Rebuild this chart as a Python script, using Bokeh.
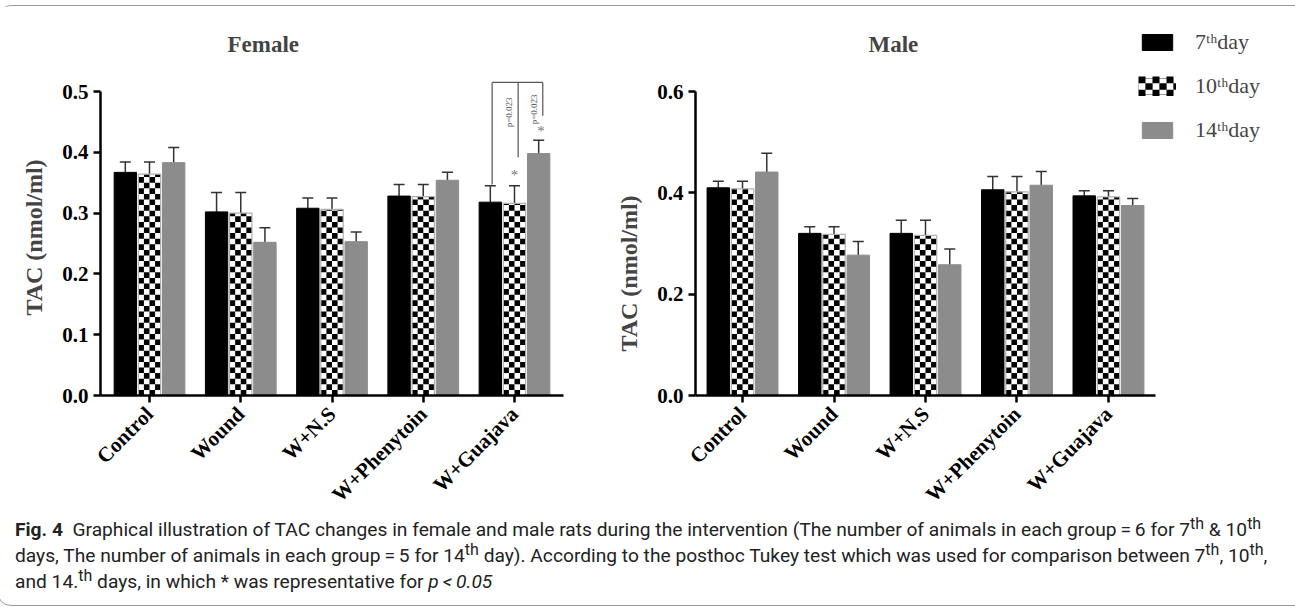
import math
from bokeh.plotting import figure
from bokeh.models import (ColumnDataSource, FactorRange, Range1d, Whisker, TeeHead, Legend, LegendItem,
                          Div, FixedTicker, NumeralTickFormatter)
from bokeh.layouts import row, column
from bokeh.transform import dodge
from bokeh.core.properties import value
from bokeh.embed import file_html
from bokeh.resources import INLINE

# ---------------- data ----------------
groups = ["Control", "Wound", "W+N.S", "W+Phenytoin", "W+Guajava"]
series_names = ["7ᵗʰday", "10ᵗʰday", "14ᵗʰday"]

female_d7 = [0.367, 0.302, 0.308, 0.328, 0.318]
female_d7_err = [0.017, 0.032, 0.017, 0.019, 0.027]
female_d10 = [0.364, 0.300, 0.306, 0.327, 0.316]
female_d10_err = [0.020, 0.034, 0.019, 0.020, 0.029]
female_d14 = [0.383, 0.252, 0.253, 0.354, 0.398]
female_d14_err = [0.025, 0.024, 0.016, 0.013, 0.022]
female_ticks = [0.0, 0.1, 0.2, 0.3, 0.4, 0.5]

male_d7 = [0.410, 0.320, 0.320, 0.406, 0.394]
male_d7_err = [0.013, 0.013, 0.026, 0.026, 0.010]
male_d10 = [0.408, 0.318, 0.316, 0.402, 0.392]
male_d10_err = [0.015, 0.015, 0.030, 0.030, 0.012]
male_d14 = [0.441, 0.277, 0.258, 0.415, 0.375]
male_d14_err = [0.037, 0.027, 0.031, 0.027, 0.014]
male_ticks = [0.0, 0.2, 0.4, 0.6]

# significance annotation (female, W+Guajava)
sig_group = "W+Guajava"
sig_bracket_top = 0.515
sig_leg_bottoms = [0.347, 0.392, 0.460]
sig_text = ["p=0.023", "p=0.023"]
sig_text_bottom = [0.441, 0.446]
star_values = [0.363, 0.435]

offsets = [-0.265, 0.0, 0.265]
bar_width = 0.245
GRAY = "#8c8c8c"
SERIF = "Liberation Serif"
TILE_PX = 5.6
FRAME_H = 316
TOP_PAD_PX = 12  # frame space above the top tick
NAN = float("nan")


def style_axes(p, ticks, ylabel):
    p.xgrid.visible = False
    p.ygrid.visible = False
    p.outline_line_color = None
    for ax in (p.xaxis[0], p.yaxis[0]):
        ax.axis_line_width = 2.5
        ax.major_tick_line_width = 2.5
        ax.major_tick_out = 7
        ax.major_tick_in = 0
        ax.minor_tick_line_color = None
        ax.major_label_text_font = SERIF
        ax.major_label_text_font_style = "bold"
        ax.major_label_text_color = "black"
        ax.major_label_text_font_size = "21px"
    p.yaxis[0].ticker = FixedTicker(ticks=ticks)
    p.yaxis[0].formatter = NumeralTickFormatter(format="0.0")
    p.yaxis[0].axis_label = ylabel
    p.yaxis[0].axis_label_text_font = SERIF
    p.yaxis[0].axis_label_text_font_style = "bold"
    p.yaxis[0].axis_label_text_font_size = "24px"
    p.yaxis[0].axis_label_standoff = 12
    p.xaxis[0].major_label_orientation = math.pi / 4
    p.xaxis[0].major_label_standoff = 8


def make_panel(title, vals, errs, ticks, frame_w, pad, min_left, min_right, title_x, ylabel):
    ymax = ticks[-1]
    yend = ymax * FRAME_H / (FRAME_H - TOP_PAD_PX)
    p = figure(title=title, x_range=FactorRange(factors=groups, range_padding=pad),
               y_range=Range1d(0, yend),
               frame_width=frame_w, frame_height=FRAME_H,
               min_border_left=min_left, min_border_right=min_right,
               min_border_top=73, min_border_bottom=110, align="start",
               output_backend="svg", toolbar_location=None, background_fill_color="white",
               border_fill_color="white")
    p.title.align = "left"
    p.title.offset = title_x
    p.title.standoff = 46
    p.title.text_font = SERIF
    p.title.text_font_style = "bold"
    p.title.text_font_size = "23px"

    tile_h = TILE_PX * yend / FRAME_H
    ncols = 4
    tile_w = bar_width / ncols

    renderers = []
    for i, (v, e) in enumerate(zip(vals, errs)):
        src = ColumnDataSource(dict(cat=groups, val=v, upper=[a + b for a, b in zip(v, e)]))
        x = dodge("cat", offsets[i], range=p.x_range)
        w = Whisker(base=x, upper="upper", lower="val", source=src, dimension="height",
                    line_color="#333333", line_width=1.5,
                    upper_head=TeeHead(size=11, line_color="#333333", line_width=1.5), lower_head=None)
        p.add_layout(w)
        if i == 0:
            r = p.vbar(x=x, top="val", width=bar_width, source=src, fill_color="black", line_color="black")
            renderers.append([r])
        elif i == 1:
            p.vbar(x=x, top="val", width=bar_width, source=src, fill_color="white", line_color=None)
            # checkerboard cells inside each bar (synthetic categorical coordinates)
            L, R, B, T = [], [], [], []
            for gi, top in enumerate(v):
                left = gi + 0.5 + offsets[i] - bar_width / 2
                nrows = int(math.ceil(top / tile_h))
                for c in range(ncols):
                    for rr in range(nrows):
                        if (c + rr) % 2 == 0:
                            L.append(left + c * tile_w)
                            R.append(left + (c + 1) * tile_w)
                            B.append(rr * tile_h)
                            T.append(min((rr + 1) * tile_h, top))
            p.quad(left=L, right=R, bottom=B, top=T, fill_color="black", line_color=None)
            p.vbar(x=x, top="val", width=bar_width, source=src, fill_color=None,
                   line_color="#b0b0b0", line_width=1.2)
            # legend-key renderers (a NaN point, invisible in the frame): white box + dashed rows = checker
            k0 = p.vbar(x=[groups[0]], top=[NAN], width=bar_width, fill_color="white", line_color="#9a9a9a")
            k1 = p.line(x=[groups[0]], y=[NAN], line_color="black", line_width=20, line_dash="7 7")
            k2 = p.line(x=[groups[0]], y=[NAN], line_color="white", line_width=6.7, line_dash="7 7")
            k3 = p.line(x=[groups[0]], y=[NAN], line_color="black", line_width=6.7, line_dash="7 7",
                        line_dash_offset=7)
            renderers.append([k0, k1, k2, k3])
        else:
            r = p.vbar(x=x, top="val", width=bar_width, source=src, fill_color=GRAY, line_color=GRAY)
            renderers.append([r])
    style_axes(p, ticks, ylabel)
    p.yaxis[0].bounds = (0, ymax)
    return p, renderers


female, fr = make_panel("Female", [female_d7, female_d10, female_d14],
                        [female_d7_err, female_d10_err, female_d14_err],
                        female_ticks, 463, 0.0148, 102, 37, 127, "TAC (nmol/ml)")
male, mr = make_panel("Male", [male_d7, male_d10, male_d14],
                      [male_d7_err, male_d10_err, male_d14_err],
                      male_ticks, 460, 0.0056, 95, 126, 173, "TAC (nmol/ml)\u2003\u2003\u2003")

# significance bracket on female panel
leg_offsets = [-0.245, 0.04, 0.31]
for off, bot in zip(leg_offsets, sig_leg_bottoms):
    s = ColumnDataSource(dict(cat=[sig_group], y0=[sig_bracket_top], y1=[bot]))
    female.segment(x0=dodge("cat", off, range=female.x_range), x1=dodge("cat", off, range=female.x_range),
                   y0="y0", y1="y1", source=s, line_color="#555555", line_width=1.2)
sh = ColumnDataSource(dict(cat=[sig_group], y=[sig_bracket_top]))
female.segment(x0=dodge("cat", leg_offsets[0], range=female.x_range),
               x1=dodge("cat", leg_offsets[2], range=female.x_range),
               y0="y", y1="y", source=sh, line_color="#555555", line_width=1.2)
for off, yb, t in zip([0.0, 0.265], sig_text_bottom, sig_text):
    female.text(x=dodge("cat", off, range=female.x_range), y="y", text="t",
                source=ColumnDataSource(dict(cat=[sig_group], y=[yb], t=[t])),
                angle=math.pi / 2, text_font=value(SERIF), text_font_size="9px", text_color="#555555",
                text_align="left", text_baseline="bottom")
for off, yv in zip([0.0, 0.29], star_values):
    female.text(x=dodge("cat", off, range=female.x_range), y="y", text="t",
                source=ColumnDataSource(dict(cat=[sig_group], y=[yv], t=["*"])),
                text_font=value(SERIF), text_font_size="15px", text_color="#777777",
                text_align="center", text_baseline="middle")

# legend on male panel (in the right side panel, so it is not clipped to the frame)
legend = Legend(items=[LegendItem(label=n, renderers=rs) for n, rs in zip(series_names, mr)],
                location=(-17, 252), orientation="vertical",
                glyph_width=38, glyph_height=20, label_height=24, spacing=18,
                label_standoff=19, padding=0, margin=0,
                label_text_font=SERIF, label_text_font_size="22px",
                border_line_color=None, background_fill_alpha=0)
male.add_layout(legend, "right")

SUP = '<sup style="line-height:0">th</sup>'
caption = Div(text=(
    "<b>Fig. 4</b>&nbsp; Graphical illustration of TAC changes in female and male rats during the intervention "
    f"(The number of animals in each group&#8201;=&#8201;6 for 7{SUP} &amp; 10{SUP} days, "
    f"The number of animals in each group&#8201;=&#8201;5 for 14{SUP} day). According to the posthoc Tukey test "
    f"which was used for comparison between 7{SUP}, 10{SUP}, and 14.{SUP} days, "
    "in which * was representative for <i>p&#8201;&lt;&#8201;0.05</i>"),
    width=1283,
    styles={"font-family": "'Liberation Sans Narrow', 'Roboto', sans-serif",
            "font-size": "19.2px", "line-height": "26px", "color": "#222",
            "padding": "10px 4px 5px 12px", "box-sizing": "border-box",
            "margin-top": "-11px"})

layout = column(row(female, male), caption,
                styles={"border": "1px solid #999999", "border-radius": "14px",
                        "margin-top": "5px", "margin-left": "-3px"})

open("out.html", "w").write(file_html(layout, INLINE))
